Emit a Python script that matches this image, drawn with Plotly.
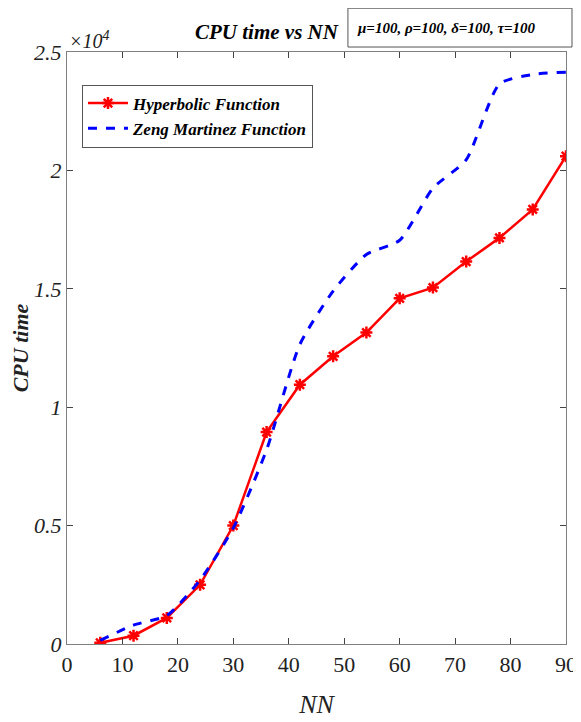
import plotly.graph_objects as go

nn = [6, 12, 18, 24, 30, 36, 42, 48, 54, 60, 66, 72, 78, 84, 90]
hyperbolic = [50, 350, 1100, 2500, 5000, 8950, 10950, 12150, 13150, 14600, 15050, 16150, 17150, 18350, 20600]
zeng_martinez = [150, 800, 1200, 2700, 4900, 8200, 12650, 14900, 16450, 17050, 19250, 20450, 23650, 24050, 24150]
y_tickvals = [0, 5000, 10000, 15000, 20000, 25000]
y_ticktext = ["0", "0.5", "1", "1.5", "2", "2.5"]
x_tickvals = [0, 10, 20, 30, 40, 50, 60, 70, 80, 90]

font = "Liberation Serif"

fig = go.Figure()
fig.add_trace(go.Scatter(
    x=nn, y=hyperbolic, mode="lines+markers", name="<b><i>Hyperbolic Function</i></b>",
    line=dict(color="red", width=2.5),
    marker=dict(symbol="asterisk-open", size=10, line=dict(color="red", width=2.5)),
))
fig.add_trace(go.Scatter(
    x=nn, y=zeng_martinez, mode="lines", name="<b><i>Zeng Martinez Function</i></b>",
    line=dict(color="blue", width=3, dash="dash", shape="spline", smoothing=0.6),
))

axis_common = dict(
    showline=True, linecolor="#7f7f7f", linewidth=1.2, mirror="ticks",
    ticks="inside", ticklen=6, tickcolor="#444", showgrid=False, zeroline=False,
    automargin=False,
    tickfont=dict(family=font, size=22, color="#222"),
)

# page body has an 8px default margin, so the figure is offset by 8px
fig.update_layout(
    width=573, height=714,
    margin=dict(l=59, r=15, t=44, b=78),
    paper_bgcolor="white", plot_bgcolor="white",
    showlegend=True,
    legend=dict(
        x=0.03, y=0.945, xanchor="left", yanchor="top",
        bgcolor="white", bordercolor="#555", borderwidth=1,
        font=dict(family=font, size=17, color="black"),
        tracegroupgap=0, itemwidth=40,
    ),
    xaxis=dict(range=[0, 90], tickvals=x_tickvals,
               tickprefix="<i>", ticksuffix="</i>",
               title=dict(text="<i>NN</i>", font=dict(family=font, size=26, color="#222"), standoff=19),
               **axis_common),
    yaxis=dict(range=[0, 25000], tickvals=y_tickvals, ticktext=["<i>%s</i>" % t for t in y_ticktext],
               title=dict(text="<b><i>CPU time</i></b>", font=dict(family=font, size=22, color="#222"), standoff=9),
               **axis_common),
)

fig.add_annotation(
    xref="paper", yref="paper", x=0.0, y=1.0, xanchor="left", yanchor="bottom",
    text="<i>×10<sup>4</sup></i>", showarrow=False,
    font=dict(family=font, size=20, color="#222"), yshift=-2,
)
fig.add_annotation(
    xref="paper", yref="paper", x=0.40, y=1.0, xanchor="center", yanchor="bottom",
    text="<b><i>CPU time vs NN</i></b>", showarrow=False,
    font=dict(family=font, size=21, color="black"), yshift=6,
)
# parameter box
fig.add_shape(
    type="rect", xref="paper", yref="paper",
    x0=0.563, x1=1.012, y0=1.0084, y1=1.074,
    line=dict(color="#555", width=1), fillcolor="white", layer="above",
)
fig.add_annotation(
    xref="paper", yref="paper", x=0.578, y=1.041, xanchor="left", yanchor="middle",
    text="<b><i>μ=100, ρ=100, δ=100, τ=100</i></b>", showarrow=False,
    font=dict(family=font, size=15, color="black"), align="left",
)

fig.write_html("out.html")
